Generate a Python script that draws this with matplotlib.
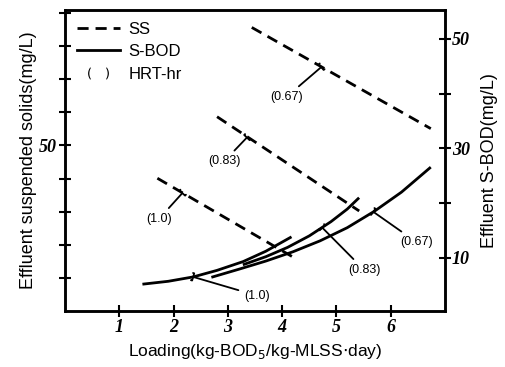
import matplotlib
matplotlib.use("Agg")
import matplotlib.pyplot as plt
from matplotlib.lines import Line2D

# SS lines (left axis, mg/L): x = loading, y = effluent SS
ss_hrt = ["(1.0)", "(0.83)", "(0.67)"]
ss_x = [[1.70, 4.28], [2.80, 5.42], [3.44, 6.74]]
ss_y = [[40.1, 15.5], [58.7, 30.2], [85.7, 55.1]]
ss_mark_x = [2.16, 3.35, 4.72]
ss_mark_y = [35.6, 52.4, 73.7]
ss_lab_x = [1.73, 2.93, 4.08]
ss_lab_y = [27.8, 45.2, 64.7]

# S-BOD curves (right axis, mg/L)
bod_hrt = ["(1.0)", "(0.83)", "(0.67)"]
bod_x = [[1.45, 1.9, 2.36, 2.8, 3.28, 3.7, 4.15],
         [3.3, 3.7, 4.1, 4.5, 4.9, 5.2, 5.4],
         [2.72, 3.2, 3.7, 4.2, 4.7, 5.2, 5.7, 6.2, 6.72]]
bod_y = [[5.2, 5.7, 6.5, 7.7, 9.3, 11.2, 13.7],
         [8.8, 10.2, 11.9, 14.0, 16.6, 18.9, 20.8],
         [6.5, 7.9, 9.4, 11.1, 13.1, 15.5, 18.5, 22.0, 26.4]]
bod_mark_x = [2.36, 4.74, 5.68]
bod_mark_y = [6.5, 15.5, 18.4]
bod_lab_x = [3.53, 5.51, 6.47]
bod_lab_y = [3.1, 7.8, 12.9]

x_ticks = [1, 2, 3, 4, 5, 6]
left_ticks = [10, 20, 30, 40, 50, 60, 70, 80, 90]
left_labels = ["", "", "", "", "50", "", "", "", ""]
right_ticks = [10, 20, 30, 40, 50]
right_labels = ["10", "", "30", "", "50"]

sans = "Liberation Sans"
tickfont = dict(family="Liberation Serif", style="italic", weight="bold", size=13)

fig = plt.figure(figsize=(5.05, 3.67), dpi=100)
ax = fig.add_axes([0.129, 0.153, 0.752, 0.82])
ax2 = ax.twinx()

ax.set_xlim(0, 7)
ax.set_ylim(0, 91)
ax2.set_ylim(0.3, 55.3)

for i in range(3):
    ax.plot(ss_x[i], ss_y[i], color="black", lw=2, ls=(0, (4, 2.5)))
    ax.annotate(ss_hrt[i], xy=(ss_mark_x[i], ss_mark_y[i]),
                xytext=(ss_lab_x[i], ss_lab_y[i]), ha="center", va="center",
                fontsize=9, family=sans,
                arrowprops=dict(arrowstyle="-[, widthB=0.3, lengthB=0.1",
                                color="black", lw=1.3, shrinkA=2, shrinkB=0))
    ax2.plot(bod_x[i], bod_y[i], color="black", lw=2)
    ax2.annotate(bod_hrt[i], xy=(bod_mark_x[i], bod_mark_y[i]),
                 xytext=(bod_lab_x[i], bod_lab_y[i]), ha="center", va="center",
                 fontsize=9, family=sans,
                 arrowprops=dict(arrowstyle="-[, widthB=0.3, lengthB=0.1",
                                 color="black", lw=1.3, shrinkA=2, shrinkB=0))

ax.set_xticks(x_ticks)
ax.set_xticklabels([str(t) for t in x_ticks], fontdict=tickfont)
ax.set_yticks(left_ticks)
ax.set_yticklabels(left_labels, fontdict=tickfont)
ax2.set_yticks(right_ticks)
ax2.set_yticklabels(right_labels, fontdict=tickfont)

ax.tick_params(axis="both", direction="inout", length=8, width=1.5, pad=2)
ax2.tick_params(axis="y", direction="inout", length=8, width=1.5, pad=1)

for a in (ax, ax2):
    for s in a.spines.values():
        s.set_linewidth(1.8)

ax.set_xlabel("Loading(kg-BOD$_5$/kg-MLSS$\\cdot$day)", family=sans, fontsize=12.5, labelpad=4)
ax.set_ylabel("Effluent suspended solids(mg/L)", family=sans, fontsize=13, labelpad=1)
ax2.set_ylabel("Effluent S-BOD(mg/L)", family=sans, fontsize=13, labelpad=8)

handles = [Line2D([], [], color="black", lw=2, ls=(0, (4, 2.5))),
           Line2D([], [], color="black", lw=2),
           Line2D([], [], ls="none", marker=r"$(\ \ \ )$", color="black", markersize=15, mew=0)]
ax.legend(handles, ["SS", "S-BOD", "HRT-hr"], loc="upper left", frameon=False,
          prop=dict(family=sans, size=12), handlelength=2.6, handletextpad=0.5,
          labelspacing=0.45, borderaxespad=0.3)

fig.savefig("out.png", dpi=100)
